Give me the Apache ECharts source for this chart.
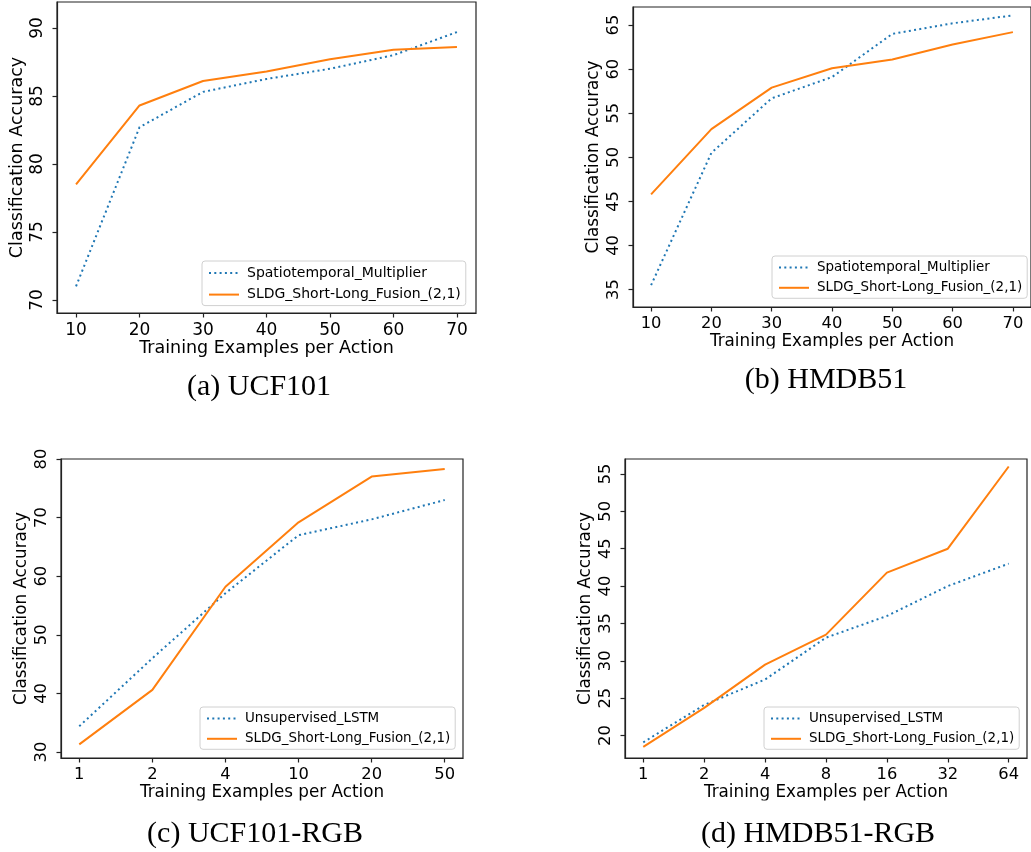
<!DOCTYPE html>
<html>
<head>
<meta charset="utf-8">
<script src="https://cdn.jsdelivr.net/npm/echarts@6/dist/echarts.min.js"></script>
<style>
  html, body { margin: 0; padding: 0; background: #fff; }
  #chart { width: 1031px; height: 852px; }
</style>
</head>
<body>
<div id="chart"></div>
<script>
// values
const examplesAB = [10, 20, 30, 40, 50, 60, 70]
const ucfMultiplier = [71.0, 82.7, 85.3, 86.25, 87.0, 88.0, 89.7]
const ucfSldg = [78.5, 84.3, 86.1, 86.8, 87.7, 88.4, 88.6]
const hmdbMultiplier = [35.5, 50.5, 56.7, 59.1, 64.0, 65.2, 66.1]
const hmdbSldg = [45.8, 53.2, 57.9, 60.1, 61.1, 62.8, 64.2]

const ucfRgbLabels = ['1', '2', '4', '10', '20', '50']
const ucfRgbLstm = [34.4, 46.0, 57.1, 67.0, 69.7, 73.0]
const ucfRgbSldg = [31.3, 40.6, 58.2, 69.2, 77.0, 78.3]

const hmdbRgbLabels = ['1', '2', '4', '8', '16', '32', '64']
const hmdbRgbLstm = [19.1, 24.1, 27.5, 33.1, 36.0, 40.0, 43.0]
const hmdbRgbSldg = [18.5, 23.7, 29.5, 33.5, 41.8, 45.0, 56.0]

const yTicksA = [70, 75, 80, 85, 90]
const yTicksB = [35, 40, 45, 50, 55, 60, 65]
const yTicksC = [30, 40, 50, 60, 70, 80]
const yTicksD = [20, 25, 30, 35, 40, 45, 50, 55]

const captions = ['(a) UCF101', '(b) HMDB51', '(c) UCF101-RGB', '(d) HMDB51-RGB']

const NAME_MULT = 'Spatiotemporal_Multiplier'
const NAME_LSTM = 'Unsupervised_LSTM'
const NAME_SLDG = 'SLDG_Short-Long_Fusion_(2,1)'

const BLUE = '#1f77b4'
const ORANGE = '#ff7f0e'
const FONT = 'DejaVu Sans'
const FRAME = '#222'

const chart = echarts.init(document.getElementById('chart'))

// panel (a) is drawn a little larger than the other three
const scale = [1, 0.96, 0.96, 0.96]

const grids = [
  { left: 57, top: 2, width: 419, height: 311 },
  { left: 633, top: 7, width: 401, height: 300 },
  { left: 61, top: 459, width: 402, height: 299 },
  { left: 625, top: 459, width: 402, height: 299 }
].map(g => ({ ...g, show: true, borderColor: FRAME, borderWidth: 1.2, backgroundColor: 'transparent' }))

const axisCommon = (i, ticks) => ({
  nameLocation: 'middle',
  nameTextStyle: { fontSize: 17.5 * scale[i], color: '#000', fontFamily: FONT },
  axisLine: { show: true, onZero: false, lineStyle: { color: FRAME, width: 1.2 } },
  splitLine: { show: false },
  axisTick: { show: true, inside: false, length: 4.5, customValues: ticks, lineStyle: { color: FRAME, width: 1.2 } }
})

const xAxisBase = (i, min, max, ticks, fmt) => ({
  ...axisCommon(i, ticks),
  type: 'value',
  gridIndex: i,
  min, max,
  name: 'Training Examples per Action',
  nameGap: 26 * scale[i],
  axisLabel: { customValues: ticks, margin: 9, fontSize: 17 * scale[i], color: '#000', fontFamily: FONT, formatter: fmt }
})

const yAxisBase = (i, min, max, ticks) => ({
  ...axisCommon(i, ticks),
  type: 'value',
  gridIndex: i,
  min, max,
  name: 'Classification Accuracy',
  nameGap: 31,
  axisLabel: { customValues: ticks, rotate: 90, margin: 11, fontSize: 17 * scale[i], color: '#000', fontFamily: FONT }
})

const idxFmt = labels => v => labels[Math.round(v)] ?? ''
const pairs = (xs, ys) => ys.map((y, k) => [xs[k], y])
const idx = arr => arr.map((_, k) => k)

const dotted = { color: BLUE, width: 2, type: [2, 3.3] }
const solid = { color: ORANGE, width: 2, type: 'solid' }

const mkSeries = (name, i, data, style) => ({
  name, type: 'line', xAxisIndex: i, yAxisIndex: i,
  data, showSymbol: false, symbol: 'none',
  lineStyle: style, itemStyle: { color: style.color },
  emphasis: { disabled: true }
})

const legendBase = (i, left, top, names) => ({
  left, top,
  orient: 'vertical',
  data: names,
  itemWidth: 30, itemHeight: 14, itemGap: 7.6 * scale[i],
  padding: [5, 5, 4, 6],
  backgroundColor: '#fff',
  borderColor: '#d0d0d0', borderWidth: 1, borderRadius: 3,
  selectedMode: false,
  itemStyle: { opacity: 0, borderWidth: 0 },
  textStyle: { fontSize: 14 * scale[i], color: '#000', fontFamily: FONT, padding: [0, 0, 0, 3] }
})

const captionText = (text, x, y) => ({
  type: 'text', x, y, z: 100,
  style: { text, font: '30px "Liberation Serif"', fill: '#000', align: 'center', verticalAlign: 'middle' }
})

// the source figure has the bottom of each x-axis title cropped off
const cropBand = (x, y, w) => ({
  type: 'rect', z: 90, silent: true,
  shape: { x, y, width: w, height: 12 },
  style: { fill: '#fff' }
})

chart.setOption({
  animation: false,
  textStyle: { fontFamily: FONT },
  grid: grids,
  xAxis: [
    xAxisBase(0, 7, 73, examplesAB),
    xAxisBase(1, 7, 73, examplesAB),
    xAxisBase(2, -0.25, 5.25, idx(ucfRgbLabels), idxFmt(ucfRgbLabels)),
    xAxisBase(3, -0.3, 6.3, idx(hmdbRgbLabels), idxFmt(hmdbRgbLabels))
  ],
  yAxis: [
    yAxisBase(0, 69.04, 91.91, yTicksA),
    yAxisBase(1, 33.02, 67.05, yTicksB),
    yAxisBase(2, 28.98, 80, yTicksC),
    yAxisBase(3, 17.0, 57.0, yTicksD)
  ],
  legend: [
    legendBase(0, 202, 261, [NAME_MULT, NAME_SLDG]),
    legendBase(1, 772, 256, [NAME_MULT, NAME_SLDG]),
    legendBase(2, 200, 707, [NAME_LSTM, NAME_SLDG]),
    legendBase(3, 764, 707, [NAME_LSTM, NAME_SLDG])
  ],
  series: [
    mkSeries(NAME_MULT, 0, pairs(examplesAB, ucfMultiplier), dotted),
    mkSeries(NAME_SLDG, 0, pairs(examplesAB, ucfSldg), solid),
    mkSeries(NAME_MULT, 1, pairs(examplesAB, hmdbMultiplier), dotted),
    mkSeries(NAME_SLDG, 1, pairs(examplesAB, hmdbSldg), solid),
    mkSeries(NAME_LSTM, 2, pairs(idx(ucfRgbLabels), ucfRgbLstm), dotted),
    mkSeries(NAME_SLDG, 2, pairs(idx(ucfRgbLabels), ucfRgbSldg), solid),
    mkSeries(NAME_LSTM, 3, pairs(idx(hmdbRgbLabels), hmdbRgbLstm), dotted),
    mkSeries(NAME_SLDG, 3, pairs(idx(hmdbRgbLabels), hmdbRgbSldg), solid)
  ],
  graphic: [
    cropBand(110, 358.5, 320),
    cropBand(690, 348.5, 290),
    cropBand(120, 800.5, 290),
    cropBand(690, 800.5, 290),
    captionText(captions[0], 259, 387),
    captionText(captions[1], 826, 380),
    captionText(captions[2], 255, 834),
    captionText(captions[3], 818, 834)
  ]
})

window.addEventListener('resize', () => chart.resize())
</script>
</body>
</html>
